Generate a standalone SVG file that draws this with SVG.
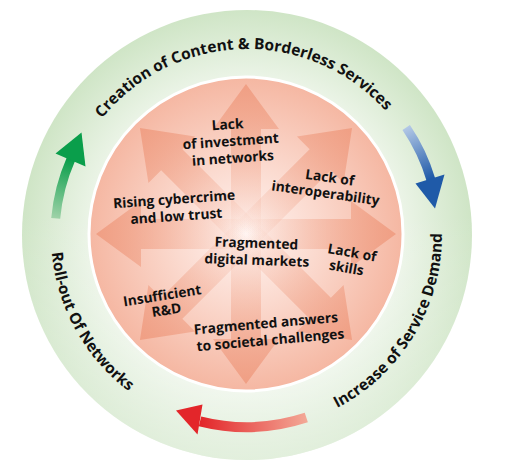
<svg xmlns="http://www.w3.org/2000/svg" width="516" height="471" viewBox="0 0 516 471">
<defs>
  <radialGradient id="ringGrad" cx="247" cy="235" r="225" gradientUnits="userSpaceOnUse">
    <stop offset="0.68" stop-color="#edf5e9"/>
    <stop offset="1" stop-color="#cfe5c6"/>
  </radialGradient>
  <linearGradient id="ringLight" x1="0" y1="0" x2="0" y2="1">
    <stop offset="0.45" stop-color="#ffffff" stop-opacity="0"/>
    <stop offset="1" stop-color="#ffffff" stop-opacity="0.4"/>
  </linearGradient>
  <radialGradient id="coreGrad" cx="246" cy="234" r="157" gradientUnits="userSpaceOnUse">
    <stop offset="0" stop-color="#fff5f2"/>
    <stop offset="0.45" stop-color="#fbdacf"/>
    <stop offset="1" stop-color="#f5b7a2"/>
  </radialGradient>
  <linearGradient id="rayGrad" x1="0" y1="0" x2="1" y2="0">
    <stop offset="0" stop-color="#ef9d81" stop-opacity="0"/>
    <stop offset="0.35" stop-color="#ef9d81" stop-opacity="0.28"/>
    <stop offset="1" stop-color="#ef9a7e" stop-opacity="0.85"/>
  </linearGradient>
  <linearGradient id="greenGrad" gradientUnits="userSpaceOnUse" x1="55.7" y1="218.3" x2="70.3" y2="160">
    <stop offset="0" stop-color="#9fd2a8"/>
    <stop offset="1" stop-color="#0a9e4b"/>
  </linearGradient>
  <linearGradient id="blueGrad" gradientUnits="userSpaceOnUse" x1="406.2" y1="127.6" x2="430.6" y2="178.9">
    <stop offset="0" stop-color="#b3c8e6"/>
    <stop offset="1" stop-color="#1f5aa8"/>
  </linearGradient>
  <linearGradient id="redGrad" gradientUnits="userSpaceOnUse" x1="306.3" y1="417.6" x2="200.6" y2="421.3">
    <stop offset="0" stop-color="#f3a896"/>
    <stop offset="1" stop-color="#e3262a"/>
  </linearGradient>
  <path id="ray" d="M0,-15 L105,-15 L105,-33 L150,0 L105,33 L105,15 L0,15 Z"/>
  <path id="arcTop" d="M 63.1 207.5 A 186 186 0 0 1 429.3 197.9"/>
  <path id="arcRight" d="M 243.6 430 A 195 195 0 0 0 417.5 140.5"/>
  <path id="arcLeft" d="M 79 134.1 A 196 196 0 0 0 243.6 431"/>
  <style>
    .lbl { font-family: "Open Sans", "Noto Sans", "Liberation Sans", sans-serif; font-weight: 700; font-size: 13.8px; fill: #111111; text-anchor: middle; }
    .ring { font-family: "Open Sans", "Noto Sans", "Liberation Sans", sans-serif; font-weight: 700; font-size: 15.5px; fill: #111111; text-anchor: middle; }
    .rayuse { fill: url(#rayGrad); }
  </style>
</defs>

<g id="background">
  <circle cx="247" cy="235" r="225" fill="url(#ringGrad)"/>
  <circle cx="247" cy="235" r="225" fill="url(#ringLight)"/>
  <circle cx="246" cy="234" r="157" fill="url(#coreGrad)" stroke="#ffffff" stroke-width="3"/>
</g>

<g id="connectors">
  <g id="rays">
    <use href="#ray" class="rayuse" transform="translate(246,234) rotate(0)"/>
    <use href="#ray" class="rayuse" transform="translate(246,234) rotate(-45)"/>
    <use href="#ray" class="rayuse" transform="translate(246,234) rotate(-90)"/>
    <use href="#ray" class="rayuse" transform="translate(246,234) rotate(-135)"/>
    <use href="#ray" class="rayuse" transform="translate(246,234) rotate(180)"/>
    <use href="#ray" class="rayuse" transform="translate(246,234) rotate(135)"/>
    <use href="#ray" class="rayuse" transform="translate(246,234) rotate(90)"/>
    <use href="#ray" class="rayuse" transform="translate(246,234) rotate(45)"/>
  </g>
  <g id="cycle-green">
    <path d="M 55.7 218.3 A 192 192 0 0 1 71 159" fill="none" stroke="url(#greenGrad)" stroke-width="9"/>
    <polygon points="55.5,153.5 85.5,166.5 81.5,132.5" fill="#0a9e4b"/>
  </g>
  <g id="cycle-blue">
    <path d="M 406.2 127.6 A 192 192 0 0 1 431 180" fill="none" stroke="url(#blueGrad)" stroke-width="9"/>
    <polygon points="415.5,183.5 444.5,174.5 435,208.5" fill="#1f5aa8"/>
  </g>
  <g id="cycle-red">
    <path d="M 306.3 417.6 A 192 192 0 0 1 200 421.3" fill="none" stroke="url(#redGrad)" stroke-width="10"/>
    <polygon points="202.5,404.5 197.5,434.5 176,410.5" fill="#e3262a"/>
  </g>
</g>

<g id="node-creation">
  <text class="ring"><textPath href="#arcTop" startOffset="50%">Creation of Content &amp; Borderless Services</textPath></text>
</g>
<g id="node-demand">
  <text class="ring"><textPath href="#arcRight" startOffset="50%">Increase of Service Demand</textPath></text>
</g>
<g id="node-rollout">
  <text class="ring"><textPath href="#arcLeft" startOffset="50%">Roll-out Of Networks</textPath></text>
</g>

<g id="node-investment" transform="rotate(-4 231 146)">
  <text class="lbl" x="229" y="129">Lack</text>
  <text class="lbl" x="231" y="146">of investment</text>
  <text class="lbl" x="232" y="163">in networks</text>
</g>
<g id="node-interoperability" transform="rotate(8 327 190)">
  <text class="lbl" x="328" y="182">Lack of</text>
  <text class="lbl" x="326" y="198">interoperability</text>
</g>
<g id="node-cybercrime" transform="rotate(-4 175 212)">
  <text class="lbl" x="175" y="204">Rising cybercrime</text>
  <text class="lbl" x="176" y="221">and low trust</text>
</g>
<g id="node-markets" transform="rotate(2 256 256)">
  <text class="lbl" x="256" y="248">Fragmented</text>
  <text class="lbl" x="257" y="265">digital markets</text>
</g>
<g id="node-skills" transform="rotate(10 349 265)">
  <text class="lbl" x="350" y="257">Lack of</text>
  <text class="lbl" x="347" y="273">skills</text>
</g>
<g id="node-rnd" transform="rotate(-9 165 307)">
  <text class="lbl" x="164" y="300">Insufficient</text>
  <text class="lbl" x="166" y="315">R&amp;D</text>
</g>
<g id="node-societal" transform="rotate(-5 268 336)">
  <text class="lbl" x="267" y="328">Fragmented answers</text>
  <text class="lbl" x="270" y="345">to societal challenges</text>
</g>
</svg>
